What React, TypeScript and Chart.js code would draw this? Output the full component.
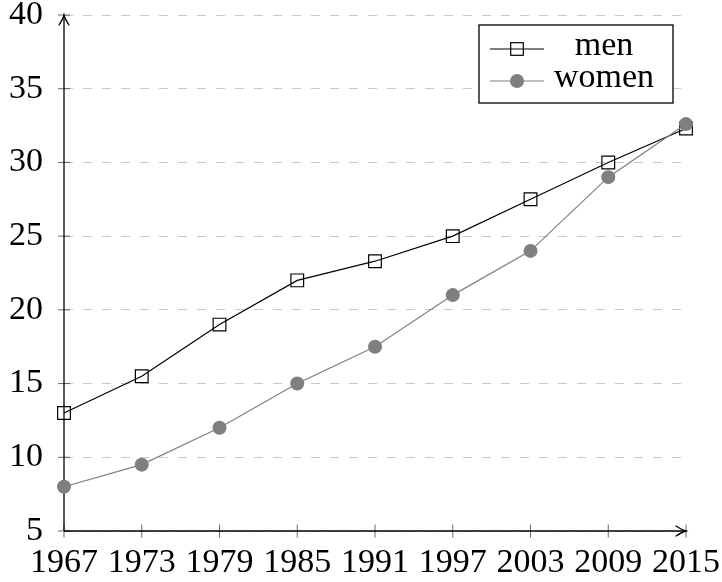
import React, { useEffect, useRef } from 'react';
import { Chart, registerables } from 'chart.js';

Chart.register(...registerables);

const years = ['1967', '1973', '1979', '1985', '1991', '1997', '2003', '2009', '2015'];
const men = [13, 15.5, 19, 22, 23.3, 25, 27.5, 30, 32.3];
const women = [8, 9.5, 12, 15, 17.5, 21, 24, 29, 32.6];
const yTicks = [5, 10, 15, 20, 25, 30, 35, 40];
const legendLabels = ['men', 'women'];

const FONT = '"Liberation Serif", "Times New Roman", serif';
const GRAY = '#7f7f7f';

function line(ctx: CanvasRenderingContext2D, x1: number, y1: number, x2: number, y2: number) {
  ctx.beginPath();
  ctx.moveTo(x1, y1);
  ctx.lineTo(x2, y2);
  ctx.stroke();
}

const axesPlugin = {
  id: 'pgfAxes',
  beforeDatasetsDraw(chart: any) {
    const { ctx, chartArea: ca, scales } = chart;
    const x = scales.x;
    const y = scales.y;
    ctx.save();
    ctx.strokeStyle = '#444';
    ctx.lineWidth = 0.8;
    years.forEach((_, i) => {
      const px = x.getPixelForValue(i);
      line(ctx, px, ca.bottom - 6.5, px, ca.bottom + 6.5);
    });
    yTicks.forEach((v) => {
      const py = y.getPixelForValue(v);
      line(ctx, ca.left - 6, py, ca.left + 6, py);
    });
    ctx.strokeStyle = '#000';
    ctx.lineWidth = 1.3;
    line(ctx, ca.left, ca.bottom, ca.left, ca.top);
    line(ctx, ca.left, ca.bottom, ca.right, ca.bottom);
    ctx.lineCap = 'round';
    const tipY = ca.top;
    ctx.beginPath();
    ctx.moveTo(ca.left - 5, tipY + 10);
    ctx.quadraticCurveTo(ca.left - 1, tipY + 4, ca.left, tipY);
    ctx.quadraticCurveTo(ca.left + 1, tipY + 4, ca.left + 5, tipY + 10);
    ctx.stroke();
    const tipX = ca.right;
    ctx.beginPath();
    ctx.moveTo(tipX - 10, ca.bottom - 5);
    ctx.quadraticCurveTo(tipX - 4, ca.bottom - 1, tipX, ca.bottom);
    ctx.quadraticCurveTo(tipX - 4, ca.bottom + 1, tipX - 10, ca.bottom + 5);
    ctx.stroke();
    ctx.restore();
  },
};

const legendPlugin = {
  id: 'pgfLegend',
  afterDatasetsDraw(chart: any) {
    const { ctx } = chart;
    const bx = 479, by = 25, bw = 194, bh = 78;
    ctx.save();
    ctx.fillStyle = '#fff';
    ctx.fillRect(bx, by, bw, bh);
    ctx.strokeStyle = '#000';
    ctx.lineWidth = 1.3;
    ctx.strokeRect(bx, by, bw, bh);
    const rows = [49, 81];
    ctx.lineWidth = 1.2;
    ctx.strokeStyle = '#000';
    line(ctx, 490, rows[0], 544, rows[0]);
    ctx.strokeRect(517 - 6.3, rows[0] - 6.3, 12.6, 12.6);
    ctx.strokeStyle = GRAY;
    line(ctx, 490, rows[1], 544, rows[1]);
    ctx.fillStyle = GRAY;
    ctx.beginPath();
    ctx.arc(517, rows[1], 7, 0, Math.PI * 2);
    ctx.fill();
    ctx.fillStyle = '#000';
    ctx.font = `34px ${FONT}`;
    ctx.textAlign = 'center';
    ctx.textBaseline = 'alphabetic';
    legendLabels.forEach((t, i) => ctx.fillText(t, 604, rows[i] + 6));
    ctx.restore();
  },
};

const zeroPad = (s: any) => {
  s.paddingTop = 0;
  s.paddingBottom = 0;
  s.paddingLeft = 0;
  s.paddingRight = 0;
};

export default function App() {
  const ref = useRef<HTMLCanvasElement | null>(null);

  useEffect(() => {
    if (!ref.current) return;
    const chart = new Chart(ref.current, {
      type: 'line',
      data: {
        labels: years,
        datasets: [
          {
            label: 'men',
            data: men,
            borderColor: '#000',
            borderWidth: 1.2,
            pointStyle: 'rect',
            pointRadius: 9,
            pointBorderWidth: 1.2,
            pointBorderColor: '#000',
            pointBackgroundColor: 'rgba(0,0,0,0)',
            order: 1,
          },
          {
            label: 'women',
            data: women,
            borderColor: GRAY,
            borderWidth: 1.2,
            pointStyle: 'circle',
            pointRadius: 7,
            pointBorderWidth: 0,
            pointBackgroundColor: GRAY,
            order: 0,
          },
        ],
      },
      options: {
        animation: false,
        responsive: false,
        devicePixelRatio: 1,
        layout: { autoPadding: false, padding: { top: 15, right: 36, left: 0, bottom: 0 } },
        plugins: { legend: { display: false }, tooltip: { enabled: false } },
        scales: {
          x: {
            type: 'category',
            offset: false,
            grid: { display: false, drawTicks: false },
            border: { display: false },
            ticks: {
              color: '#000',
              font: { family: FONT, size: 34, lineHeight: 1 },
              padding: 15,
              maxRotation: 0,
              autoSkip: false,
            },
            afterFit: (s: any) => {
              s.height = 51;
              zeroPad(s);
            },
          },
          y: {
            type: 'linear',
            min: 5,
            max: 40,
            ticks: {
              stepSize: 5,
              color: '#000',
              font: { family: FONT, size: 34, lineHeight: 1 },
              padding: 21,
            },
            grid: { color: '#c8c8c8', lineWidth: 1, drawTicks: false },
            border: { display: false, dash: [9, 10] },
            afterFit: (s: any) => {
              s.width = 64;
              zeroPad(s);
            },
          },
        },
      },
      plugins: [axesPlugin, legendPlugin],
    });
    return () => chart.destroy();
  }, []);

  return (
    <div style={{ position: 'absolute', left: 0, top: 0, width: 722, height: 582, background: '#fff' }}>
      <canvas ref={ref} width={722} height={582} style={{ display: 'block', width: 722, height: 582 }} />
    </div>
  );
}
